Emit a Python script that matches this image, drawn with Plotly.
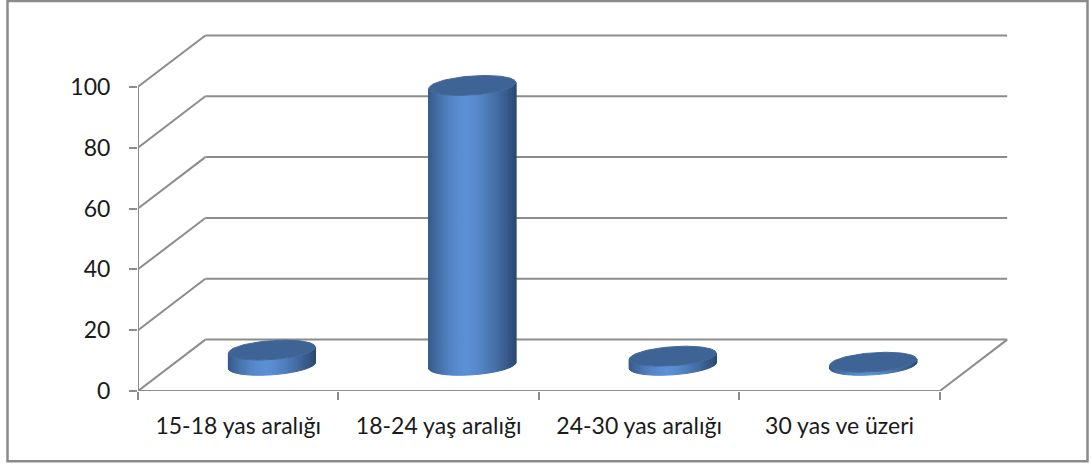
import numpy as np
import plotly.graph_objects as go

# ---- data ----
categories = ["15-18 yas aralığı", "18-24 yaş aralığı", "24-30 yas aralığı", "30 yas ve üzeri"]
values = [5, 92, 3, 1]
y_ticks = [0, 20, 40, 60, 80, 100]

# ---- style / geometry (oblique 3D projection in data units) ----
DX = 0.336      # depth offset along x (category units)
DY = 16.9       # depth offset along y (value units)
RX = 0.207      # cylinder radius along x (category units)
RD = 0.194      # cylinder radius along depth (fraction of depth)
X_MAX = 4.4
Y_MAX = 120
W, H = 1092, 466
ML, MR, MT, MB = 138, 72, 25.5, 74.5
GRID = "#8c8c8c"
FONT = "Lato"

n = len(categories)
fig = go.Figure()

# ---- walls / floor lines ----
lx, ly = [], []
def seg(x0, y0, x1, y1):
    lx.extend([x0, x1, None]); ly.extend([y0, y1, None])

for v in y_ticks:
    seg(DX, v + DY, n + DX, v + DY)      # back wall gridline
    seg(0, v, DX, v + DY)                # side wall diagonal
seg(n, 0, n + DX, DY)                    # floor right edge
seg(0, 0, n, 0)                          # front x axis line
seg(0, 0, 0, y_ticks[-1])                # front y axis line
fig.add_trace(go.Scatter(x=lx, y=ly, mode="lines",
                         line=dict(color=GRID, width=2), hoverinfo="skip"))

# ---- cylinders ----
theta0 = np.arctan2(RD * DX, RX)
NS = 48
edges = np.linspace(theta0 + np.pi, theta0 + 2 * np.pi, NS + 1)

def ell(cx, cy, th):
    return cx + RX * np.cos(th) + RD * DX * np.sin(th), cy + RD * DY * np.sin(th)

def hex2rgb(h):
    h = h.lstrip("#"); return np.array([int(h[i:i + 2], 16) for i in (0, 2, 4)], float)

C_LEFT, C_PEAK, C_RIGHT = hex2rgb("#365a8a"), hex2rgb("#5b8fd4"), hex2rgb("#2c4a74")
def shade(t):
    if t < 0.45:
        f = np.sin(np.pi / 2 * t / 0.45)
        c = C_LEFT + (C_PEAK - C_LEFT) * f
    else:
        f = ((t - 0.45) / 0.55) ** 1.4
        c = C_PEAK + (C_RIGHT - C_PEAK) * f
    return "rgb(%d,%d,%d)" % tuple(np.round(c))

centers = [i + 0.5 + 0.5 * DX for i in range(n)]
base = 0.5 * DY
xl_ref = ell(0, 0, theta0 + np.pi)[0]
xr_ref = ell(0, 0, theta0)[0]
for k in range(NS):
    th = np.linspace(edges[k], edges[k + 1], 4)
    sx, sy = [], []
    for cx, v in zip(centers, values):
        bx, by = ell(cx, base, th)
        tx, ty = ell(cx, base + v, th[::-1])
        sx.extend(list(bx) + list(tx) + [bx[0], None])
        sy.extend(list(by) + list(ty) + [by[0], None])
    tm = ell(0, 0, 0.5 * (edges[k] + edges[k + 1]))[0]
    t = (tm - xl_ref) / (xr_ref - xl_ref)
    col = shade(t)
    fig.add_trace(go.Scatter(x=sx, y=sy, mode="lines", fill="toself", fillcolor=col,
                             line=dict(color=col, width=1), hoverinfo="skip"))

# top ellipses
th = np.linspace(0, 2 * np.pi, 90)
ex, ey = [], []
for cx, v in zip(centers, values):
    x, y = ell(cx, base + v, th)
    ex.extend(list(x) + [None]); ey.extend(list(y) + [None])
fig.add_trace(go.Scatter(x=ex, y=ey, mode="lines", fill="toself", fillcolor="#3d6494",
                         line=dict(color="#45699a", width=1), hoverinfo="skip"))

# invisible trace for the overlay x axis (category boundary ticks)
fig.add_trace(go.Scatter(x=[0, n], y=[0, 0], mode="lines", line=dict(width=0),
                         xaxis="x2", hoverinfo="skip"))

pw = W - ML - MR
ph = H - MT - MB
def px_x(p): return (p - ML) / pw
def px_y(p): return (H - MB - p) / ph

fig.update_layout(
    width=W, height=H,
    margin=dict(l=ML, r=MR, t=MT, b=MB, pad=0),
    paper_bgcolor="white", plot_bgcolor="white",
    showlegend=False, hovermode=False,
    font=dict(family=FONT, size=23, color="#1a1a1a"),
    xaxis=dict(range=[0, X_MAX], showgrid=False, zeroline=False, showline=False,
               tickvals=[i + 0.5 for i in range(n)], ticktext=categories,
               ticks="", ticklabelstandoff=19, fixedrange=True),
    xaxis2=dict(range=[0, X_MAX], overlaying="x", side="bottom", anchor="y",
                showgrid=False, zeroline=False, showline=False,
                tickvals=list(range(n + 1)), ticks="outside", ticklen=8,
                tickwidth=2, tickcolor=GRID, showticklabels=False, fixedrange=True),
    yaxis=dict(range=[0, Y_MAX], showgrid=False, zeroline=False, showline=False,
               tickvals=y_ticks, ticks="outside", ticklen=8, tickwidth=2,
               tickcolor=GRID, ticklabelstandoff=14, fixedrange=True),
    shapes=[dict(type="rect", xref="paper", yref="paper",
                 x0=px_x(7.5), x1=px_x(1087.5), y0=px_y(462), y1=px_y(0.5),
                 line=dict(color="#8a8a8a", width=2.5), layer="above")],
)

fig.write_html("out.html")
